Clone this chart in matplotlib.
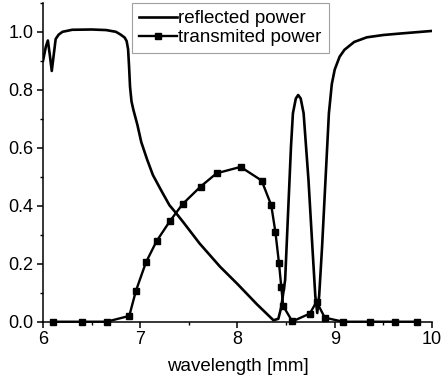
import numpy as np
import matplotlib
matplotlib.use('Agg')
import matplotlib.pyplot as plt
from matplotlib.ticker import MultipleLocator

plt.rcParams['font.family'] = ['Liberation Sans', 'DejaVu Sans']

# reflected power
refl_x = [6.00, 6.03, 6.05, 6.07, 6.09, 6.11, 6.13, 6.16, 6.20, 6.30, 6.50, 6.65,
          6.75, 6.80, 6.84, 6.86, 6.875, 6.885, 6.895, 6.91, 6.93, 6.97, 7.01, 7.07,
          7.13, 7.22, 7.30, 7.37, 7.45, 7.61, 7.82, 8.00, 8.20, 8.37, 8.42, 8.45,
          8.49, 8.52, 8.55, 8.57, 8.60, 8.624, 8.65, 8.68, 8.73, 8.77, 8.80, 8.82,
          8.84, 8.87, 8.905, 8.94, 8.97, 9.00, 9.05, 9.10, 9.20, 9.33, 9.50, 9.67, 10.0]
refl_y = [0.90, 0.95, 0.97, 0.92, 0.865, 0.92, 0.975, 0.99, 1.0, 1.007, 1.008, 1.006,
          1.0, 0.99, 0.98, 0.968, 0.94, 0.88, 0.81, 0.76, 0.73, 0.68, 0.62, 0.56,
          0.506, 0.45, 0.402, 0.374, 0.34, 0.27, 0.19, 0.13, 0.06, 0.005, 0.01, 0.05,
          0.144, 0.374, 0.603, 0.719, 0.77, 0.782, 0.77, 0.719, 0.489, 0.259, 0.09,
          0.03, 0.09, 0.259, 0.489, 0.719, 0.82, 0.87, 0.914, 0.938, 0.965, 0.981,
          0.989, 0.994, 1.003]

# transmitted power markers
trans_x = [6.106, 6.398, 6.654, 6.887, 6.956, 7.059, 7.168, 7.305, 7.436, 7.62,
           7.785, 8.032, 8.248, 8.347, 8.39, 8.427, 8.45, 8.47, 8.564, 8.744,
           8.813, 8.898, 9.086, 9.361, 9.618, 9.847]
trans_y = [0.0, 0.0, 0.0, 0.02, 0.107, 0.205, 0.278, 0.347, 0.406, 0.466,
           0.512, 0.534, 0.487, 0.402, 0.309, 0.201, 0.121, 0.054, 0.001, 0.028,
           0.069, 0.014, 0.0, 0.0, 0.0, 0.0]

fig = plt.figure(figsize=(4.43, 3.87), dpi=100)
ax = fig.add_axes([0.0971, 0.1687, 0.878, 0.824])

ax.plot(refl_x, refl_y, '-', color='black', lw=1.9, label='reflected power')
ax.plot(trans_x, trans_y, '-', color='black', lw=1.7, marker='s', markersize=4.5,
        label='transmited power', clip_on=False)

ax.set_xlim(6, 10)
ax.set_ylim(0, 1.1)
ax.xaxis.set_major_locator(MultipleLocator(1))
ax.xaxis.set_minor_locator(MultipleLocator(0.5))
ax.yaxis.set_minor_locator(MultipleLocator(0.1))
ax.set_yticks([0.0, 0.2, 0.4, 0.6, 0.8, 1.0])
ax.set_yticklabels(['0.0', '0.2', '0.4', '0.6', '0.8', '1.0'])

for s in ['top', 'right']:
    ax.spines[s].set_visible(False)
for s in ['left', 'bottom']:
    ax.spines[s].set_linewidth(1.1)

ax.tick_params(which='major', direction='out', length=4, width=1.1, labelsize=13, pad=3)
ax.tick_params(which='minor', direction='out', length=2.5, width=1.0)

ax.set_xlabel('wavelength [mm]', fontsize=13.5, labelpad=7)

leg = fig.legend(loc='upper left', bbox_to_anchor=(132 / 443, 1 - 3 / 387),
                 fontsize=13.5, frameon=True, fancybox=False, borderpad=0.38,
                 handlelength=2.0, handletextpad=0.1, labelspacing=0.1,
                 borderaxespad=0)
leg.get_frame().set_edgecolor('#888888')
leg.get_frame().set_linewidth(0.8)

fig.savefig('out.png', dpi=100)
